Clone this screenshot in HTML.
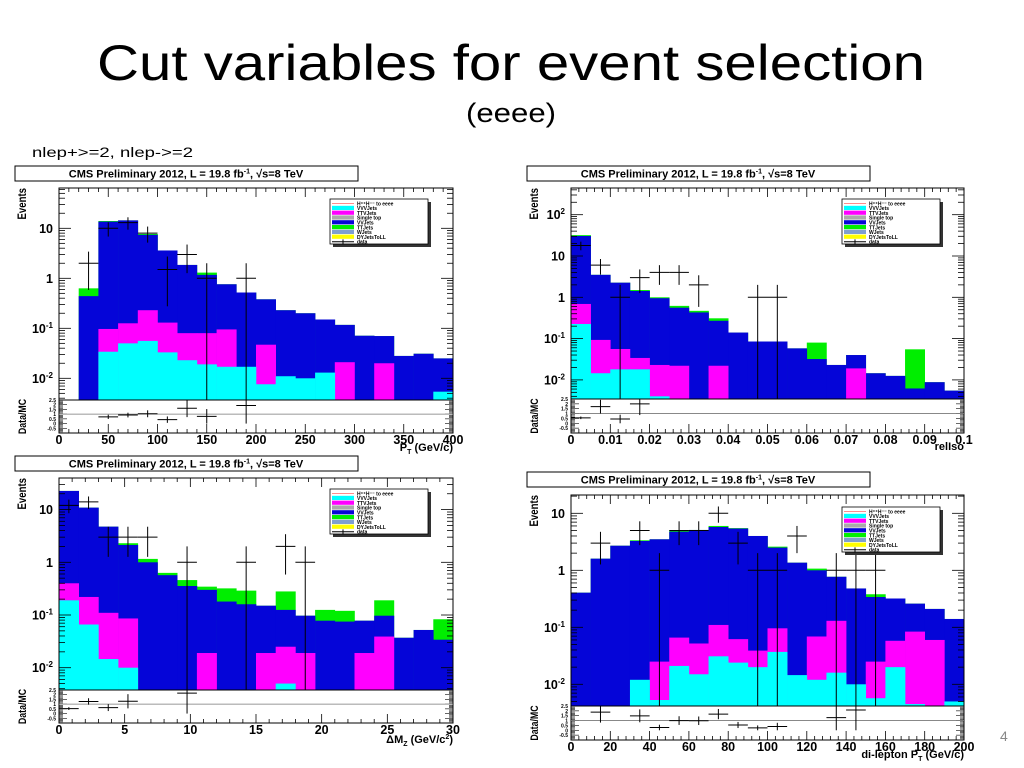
<!DOCTYPE html>
<html><head><meta charset="utf-8"><style>
html,body{margin:0;padding:0;background:#fff;width:1024px;height:768px;overflow:hidden}
svg{position:absolute;left:0;top:0}
text{font-family:"Liberation Sans",sans-serif}
</style></head><body>
<svg id="s" width="1024" height="768" viewBox="0 0 1024 768">
<text x="97" y="80" textLength="828" lengthAdjust="spacingAndGlyphs" font-size="50">Cut variables for event selection</text>
<text x="466" y="122" textLength="90" lengthAdjust="spacingAndGlyphs" font-size="27">(eeee)</text>
<text x="32" y="157" textLength="161" lengthAdjust="spacingAndGlyphs" font-size="14">nlep+&gt;=2, nlep-&gt;=2</text>
<text x="1000" y="741" font-size="14" fill="#888">4</text>
</svg>
<script>
// ---- Plot 1: lepton PT ----
const p1Cyan=[0,0,0.034,0.05,0.056,0.033,0.023,0.019,0.017,0.017,0.0076,0.011,0.01,0.013,0,0,0,0,0,0.0054];
const p1Mag=[0,0,0.097,0.126,0.23,0.13,0.08,0.08,0.095,0,0.047,0,0,0,0.021,0,0.02,0,0,0];
const p1Blue=[0,0.44,13.6,14.4,7.4,3.6,1.85,1.17,0.76,0.52,0.38,0.23,0.2,0.15,0.117,0.071,0.07,0.028,0.031,0.025];
const p1Green=[0,0.63,14,14.4,7.7,3.6,1.85,1.3,0.76,0.52,0.38,0.23,0.2,0.15,0.117,0.071,0.07,0.028,0.031,0.025];
const p1Data=[0,2,10,13,8,1.5,3,1,0,1,0,0,0,0,0,0,0,0,0,0];
const p1Ticks=["0","50","100","150","200","250","300","350","400"];
// ---- Plot 2: relIso ----
const p2Cyan=[0.226,0.0145,0.018,0.018,0.004,0,0,0,0,0,0,0,0,0,0,0,0,0,0,0];
const p2Mag=[0.69,0.093,0.056,0.034,0.023,0.022,0,0.022,0,0,0,0,0,0,0.019,0,0,0,0,0];
const p2Blue=[30.5,3.5,2.26,1.42,0.95,0.56,0.43,0.27,0.14,0.085,0.085,0.058,0.032,0.023,0.04,0.0145,0.0125,0.0062,0.0088,0.0055];
const p2Green=[32,3.5,2.26,1.5,1.0,0.62,0.47,0.31,0.14,0.085,0.085,0.058,0.08,0.023,0.04,0.0145,0.0125,0.055,0.0088,0.0055];
const p2Data=[18,6,1,3,4,4,2,0,0,1,1,0,0,0,0,0,0,0,0,0];
const p2Ticks=["0","0.01","0.02","0.03","0.04","0.05","0.06","0.07","0.08","0.09","0.1"];
// ---- Plot 3: delta MZ ----
const p3Cyan=[0.19,0.066,0.0146,0.01,0,0,0,0,0,0,0,0.005,0,0,0,0,0,0,0,0];
const p3Mag=[0.4,0.22,0.11,0.086,0,0,0,0.019,0,0,0.019,0.025,0.019,0,0,0.019,0.039,0,0,0];
const p3Blue=[22.6,10.9,4.75,2.13,1,0.57,0.355,0.3,0.18,0.16,0.15,0.125,0.097,0.078,0.075,0.078,0.097,0.037,0.052,0.034];
const p3Green=[22.6,10.9,4.75,2.3,1.16,0.63,0.46,0.345,0.32,0.29,0.15,0.28,0.097,0.125,0.12,0.078,0.19,0.037,0.052,0.083];
const p3Data=[12,14,3,3,3,0,1,0,0,1,0,2,1,0,0,0,0,0,0,0];
const p3Ticks=["0","5","10","15","20","25","30"];
// ---- Plot 4: di-lepton PT ----
const p4Cyan=[0,0,0,0.012,0.0053,0.021,0.015,0.031,0.024,0.02,0.037,0.0145,0.012,0.016,0.01,0.0057,0.02,0.0045,0,0.005];
const p4Mag=[0,0,0,0,0.025,0.066,0.052,0.11,0.062,0.039,0.096,0,0.069,0.13,0,0.025,0.058,0.084,0.06,0];
const p4Blue=[0.405,1.6,2.7,3.27,3.5,4.76,5.1,5.75,5.4,4,2.5,1.36,1,0.77,0.48,0.34,0.32,0.26,0.21,0.14];
const p4Green=[0.405,1.6,2.7,3.36,3.5,5,5.1,6,5.5,4,2.6,1.36,1.07,0.77,0.48,0.38,0.32,0.26,0.21,0.14];
const p4Data=[0,3,0,5,1,5,5,10,3,1,1,4,0,1,1,1,0,0,0,0];
const p4Ticks=["0","20","40","60","80","100","120","140","160","180","200"];
const legendLabels=["H\u207A\u207AH\u207B\u207B to eeee","VVVJets","TTVJets","Single top","VVJets","TTJets","WJets","DYJetsToLL","data"];

const NS="http://www.w3.org/2000/svg";
const svg=document.getElementById('s');
function mk(tag,attrs,parent){const e=document.createElementNS(NS,tag);for(const k in attrs)e.setAttribute(k,attrs[k]);(parent||svg).appendChild(e);return e;}

function drawPlot(c){
  const g=mk('g',{});
  
  
  const nb=c.blue.length, bw=(c.x1-c.x0)/nb;
  const yv=v=>Math.min(c.yMain,Math.max(c.yTop,c.y1-c.dec*Math.log10(v)));
  const xv=i=>c.x0+i*bw;
  const tb=mk('rect',{x:c.tbx,y:c.tby,width:343,height:15,fill:'#fff',stroke:'#000','stroke-width':1},g);
  
  
  const tt=mk('text',{x:c.tbx+171,y:c.tby+11.5,'text-anchor':'middle','font-size':11,'font-weight':'bold'},g);
  tt.innerHTML='CMS Preliminary 2012, L = 19.8 fb<tspan dy="-4" font-size="7">-1</tspan><tspan dy="4">, \u221As=8 TeV</tspan>';
  
  
  const layers=[[c.green,'#00ee00','green-bar'],[c.blue,'#0505d8','blue-bar'],[c.mag,'#ff00ff','magenta-bar'],[c.cyan,'#00ffff','cyan-bar']];
  layers.forEach(([arr,col,nm])=>{
    arr.forEach((v,i)=>{
      if(v<=0)return;
      const y=yv(v);
      const r=mk('rect',{x:xv(i),y:y,width:bw+0.3,height:c.yMain-y,fill:col},g);
      
      
    });
  });
  const f1=mk('rect',{x:c.x0,y:c.yTop,width:c.x1-c.x0,height:c.yMain-c.yTop,fill:'none',stroke:'#000','stroke-width':1},g);
  
  
  const f2=mk('rect',{x:c.x0,y:c.yMain,width:c.x1-c.x0,height:c.yRatio-c.yMain,fill:'none',stroke:'#000','stroke-width':1},g);
  
  
  for(let d=-3;d<=3;d++){
    for(let m=1;m<10;m++){
      const v=m*Math.pow(10,d); const y=c.y1-c.dec*Math.log10(v);
      if(y<c.yTop||y>c.yMain)continue;
      const L=m==1?12:6;
      mk('line',{x1:c.x0,y1:y,x2:c.x0+L,y2:y,stroke:'#000','stroke-width':0.8},g);
      mk('line',{x1:c.x1,y1:y,x2:c.x1-L,y2:y,stroke:'#000','stroke-width':0.8},g);
      if(m==1){
        const t=mk('text',{x:c.x0-6,y:y+4.5,'text-anchor':'end','font-size':12.5,'font-weight':'bold'},g);
        if(d==0)t.textContent='1';else if(d==1)t.textContent='10';
        else t.innerHTML='10<tspan dy="-5" font-size="8">'+(d<0?'-':'')+Math.abs(d)+'</tspan>';
        
        
      }
    }
  }
  const nt=c.ticks.length-1, tw=(c.x1-c.x0)/nt;
  for(let i=0;i<=nt*5;i++){
    const x=c.x0+i*tw/5, L=i%5==0?9:4;
    mk('line',{x1:x,y1:c.yTop,x2:x,y2:c.yTop+L,stroke:'#000','stroke-width':0.8},g);
    mk('line',{x1:x,y1:c.yRatio,x2:x,y2:c.yRatio-L,stroke:'#000','stroke-width':0.8},g);
  }
  c.ticks.forEach((lab,i)=>{
    const t=mk('text',{x:c.x0+i*tw,y:c.yRatio+11,'text-anchor':'middle','font-size':12.5,'font-weight':'bold'},g);
    t.textContent=lab;
    
    
  });
  const rmin=-1,rmax=2.5, ry=r=>c.yRatio-(r-rmin)/(rmax-rmin)*(c.yRatio-c.yMain);
  for(let r=-1;r<=2.5;r+=0.125){
    const y=ry(r),L=Math.abs(r*2-Math.round(r*2))<0.01?8:4;
    mk('line',{x1:c.x0,y1:y,x2:c.x0+L,y2:y,stroke:'#000','stroke-width':0.6},g);
    mk('line',{x1:c.x1,y1:y,x2:c.x1-L,y2:y,stroke:'#000','stroke-width':0.6},g);
  }
  [-0.5,0,0.5,1,1.5,2,2.5].forEach(r=>{
    const t=mk('text',{x:c.x0-3,y:ry(r)+2,'text-anchor':'end','font-size':5,'font-weight':'bold'},g);
    t.textContent=r;
  });
  mk('line',{x1:c.x0,y1:ry(1),x2:c.x1,y2:ry(1),stroke:'#777','stroke-width':0.8},g);
  c.data.forEach((n,i)=>{
    if(n<=0)return;
    const xc=xv(i)+bw/2, e=Math.sqrt(n);
    const y=yv(n), yh=yv(n+e), yl=n-e>0?yv(n-e):c.yMain;
    const p=mk('g',{},g);
    
    
    mk('line',{x1:xv(i),y1:y,x2:xv(i)+bw,y2:y,stroke:'#000','stroke-width':1},p);
    mk('line',{x1:xc,y1:yh,x2:xc,y2:yl,stroke:'#000','stroke-width':1},p);
    const tot=c.green[i];
    if(tot>0){
      const r=n/tot, er=e/tot;
      if(r<=rmax){
        const yr=ry(r), yt=ry(Math.min(rmax,r+er)), yb=ry(Math.max(rmin,r-er));
        const q=mk('g',{},g);
        
        
        mk('line',{x1:xv(i),y1:yr,x2:xv(i)+bw,y2:yr,stroke:'#000','stroke-width':1},q);
        mk('line',{x1:xc,y1:yt,x2:xc,y2:yb,stroke:'#000','stroke-width':1},q);
      }
    }
  });
  const ev=mk('text',{transform:`translate(${c.x0-33},${c.yTop}) rotate(-90) scale(0.8,1)`,'text-anchor':'end','font-size':12,'font-weight':'bold'},g);
  ev.textContent='Events';
  
  
  const dm=mk('text',{transform:`translate(${c.x0-33},${(c.yMain+c.yRatio)/2}) rotate(-90) scale(0.8,1)`,'text-anchor':'middle','font-size':11,'font-weight':'bold'},g);
  dm.textContent='Data/MC';
  
  
  const xt=mk('text',{x:c.x1,y:c.xty,'text-anchor':'end','font-size':11,'font-weight':'bold'},g);
  xt.innerHTML=c.xtitle;
  
  
  const lg=mk('g',{},g);
  
  
  mk('rect',{x:c.lx+3,y:c.ly+3,width:98,height:45,fill:'#333'},lg);
  mk('rect',{x:c.lx,y:c.ly,width:98,height:45,fill:'#fff',stroke:'#000','stroke-width':0.8},lg);
  const cols=[null,'#00ffff','#ff00ff','#aaaaaa','#0505d8','#00ee00','#7f9fcf','#ffff00',null];
  legendLabels.forEach((lab,i)=>{
    const y=c.ly+2+i*4.8;
    const en=mk('g',{},lg);
    
    
    if(i==0)mk('line',{x1:c.lx+2,y1:y+2.4,x2:c.lx+24,y2:y+2.4,stroke:'#f66','stroke-width':0.8},en);
    else if(i==8){mk('line',{x1:c.lx+2,y1:y+2.4,x2:c.lx+24,y2:y+2.4,stroke:'#000','stroke-width':1},en);mk('line',{x1:c.lx+13,y1:y,x2:c.lx+13,y2:y+5,stroke:'#000','stroke-width':1},en);}
    else mk('rect',{x:c.lx+2,y:y,width:22,height:4.2,fill:cols[i]},en);
    const t=mk('text',{x:c.lx+27,y:y+4.3,'font-size':5,'font-weight':'bold'},en);
    t.textContent=lab;
  });
}

drawPlot({name:'plot-lepton-pt',x0:59,x1:453,yTop:188,yMain:400,yRatio:433,y1:278.3,dec:50,
  cyan:p1Cyan,mag:p1Mag,blue:p1Blue,green:p1Green,data:p1Data,ticks:p1Ticks,
  tbx:15,tby:166,lx:330,ly:199,xty:451,xtitle:'P<tspan dy="3" font-size="7">T</tspan><tspan dy="-3"> (GeV/c)</tspan>'});
drawPlot({name:'plot-reliso',x0:571,x1:964,yTop:188,yMain:399,yRatio:433,y1:297.3,dec:41.3,
  cyan:p2Cyan,mag:p2Mag,blue:p2Blue,green:p2Green,data:p2Data,ticks:p2Ticks,
  tbx:527,tby:166,lx:842,ly:199,xty:450,xtitle:'relIso'});
drawPlot({name:'plot-delta-mz',x0:59,x1:453,yTop:478,yMain:690,yRatio:723,y1:562.3,dec:52.7,
  cyan:p3Cyan,mag:p3Mag,blue:p3Blue,green:p3Green,data:p3Data,ticks:p3Ticks,
  tbx:15,tby:456,lx:330,ly:489,xty:743,xtitle:'\u0394M<tspan dy="3" font-size="7">Z</tspan><tspan dy="-3"> (GeV/c</tspan><tspan dy="-4" font-size="7">2</tspan><tspan dy="4">)</tspan>'});
drawPlot({name:'plot-dilepton-pt',x0:571,x1:964,yTop:495,yMain:706,yRatio:740,y1:570.3,dec:57,
  cyan:p4Cyan,mag:p4Mag,blue:p4Blue,green:p4Green,data:p4Data,ticks:p4Ticks,
  tbx:527,tby:472,lx:842,ly:507,xty:758,xtitle:'di-lepton P<tspan dy="3" font-size="7">T</tspan><tspan dy="-3"> (GeV/c)</tspan>'});
</script>
</body></html>
